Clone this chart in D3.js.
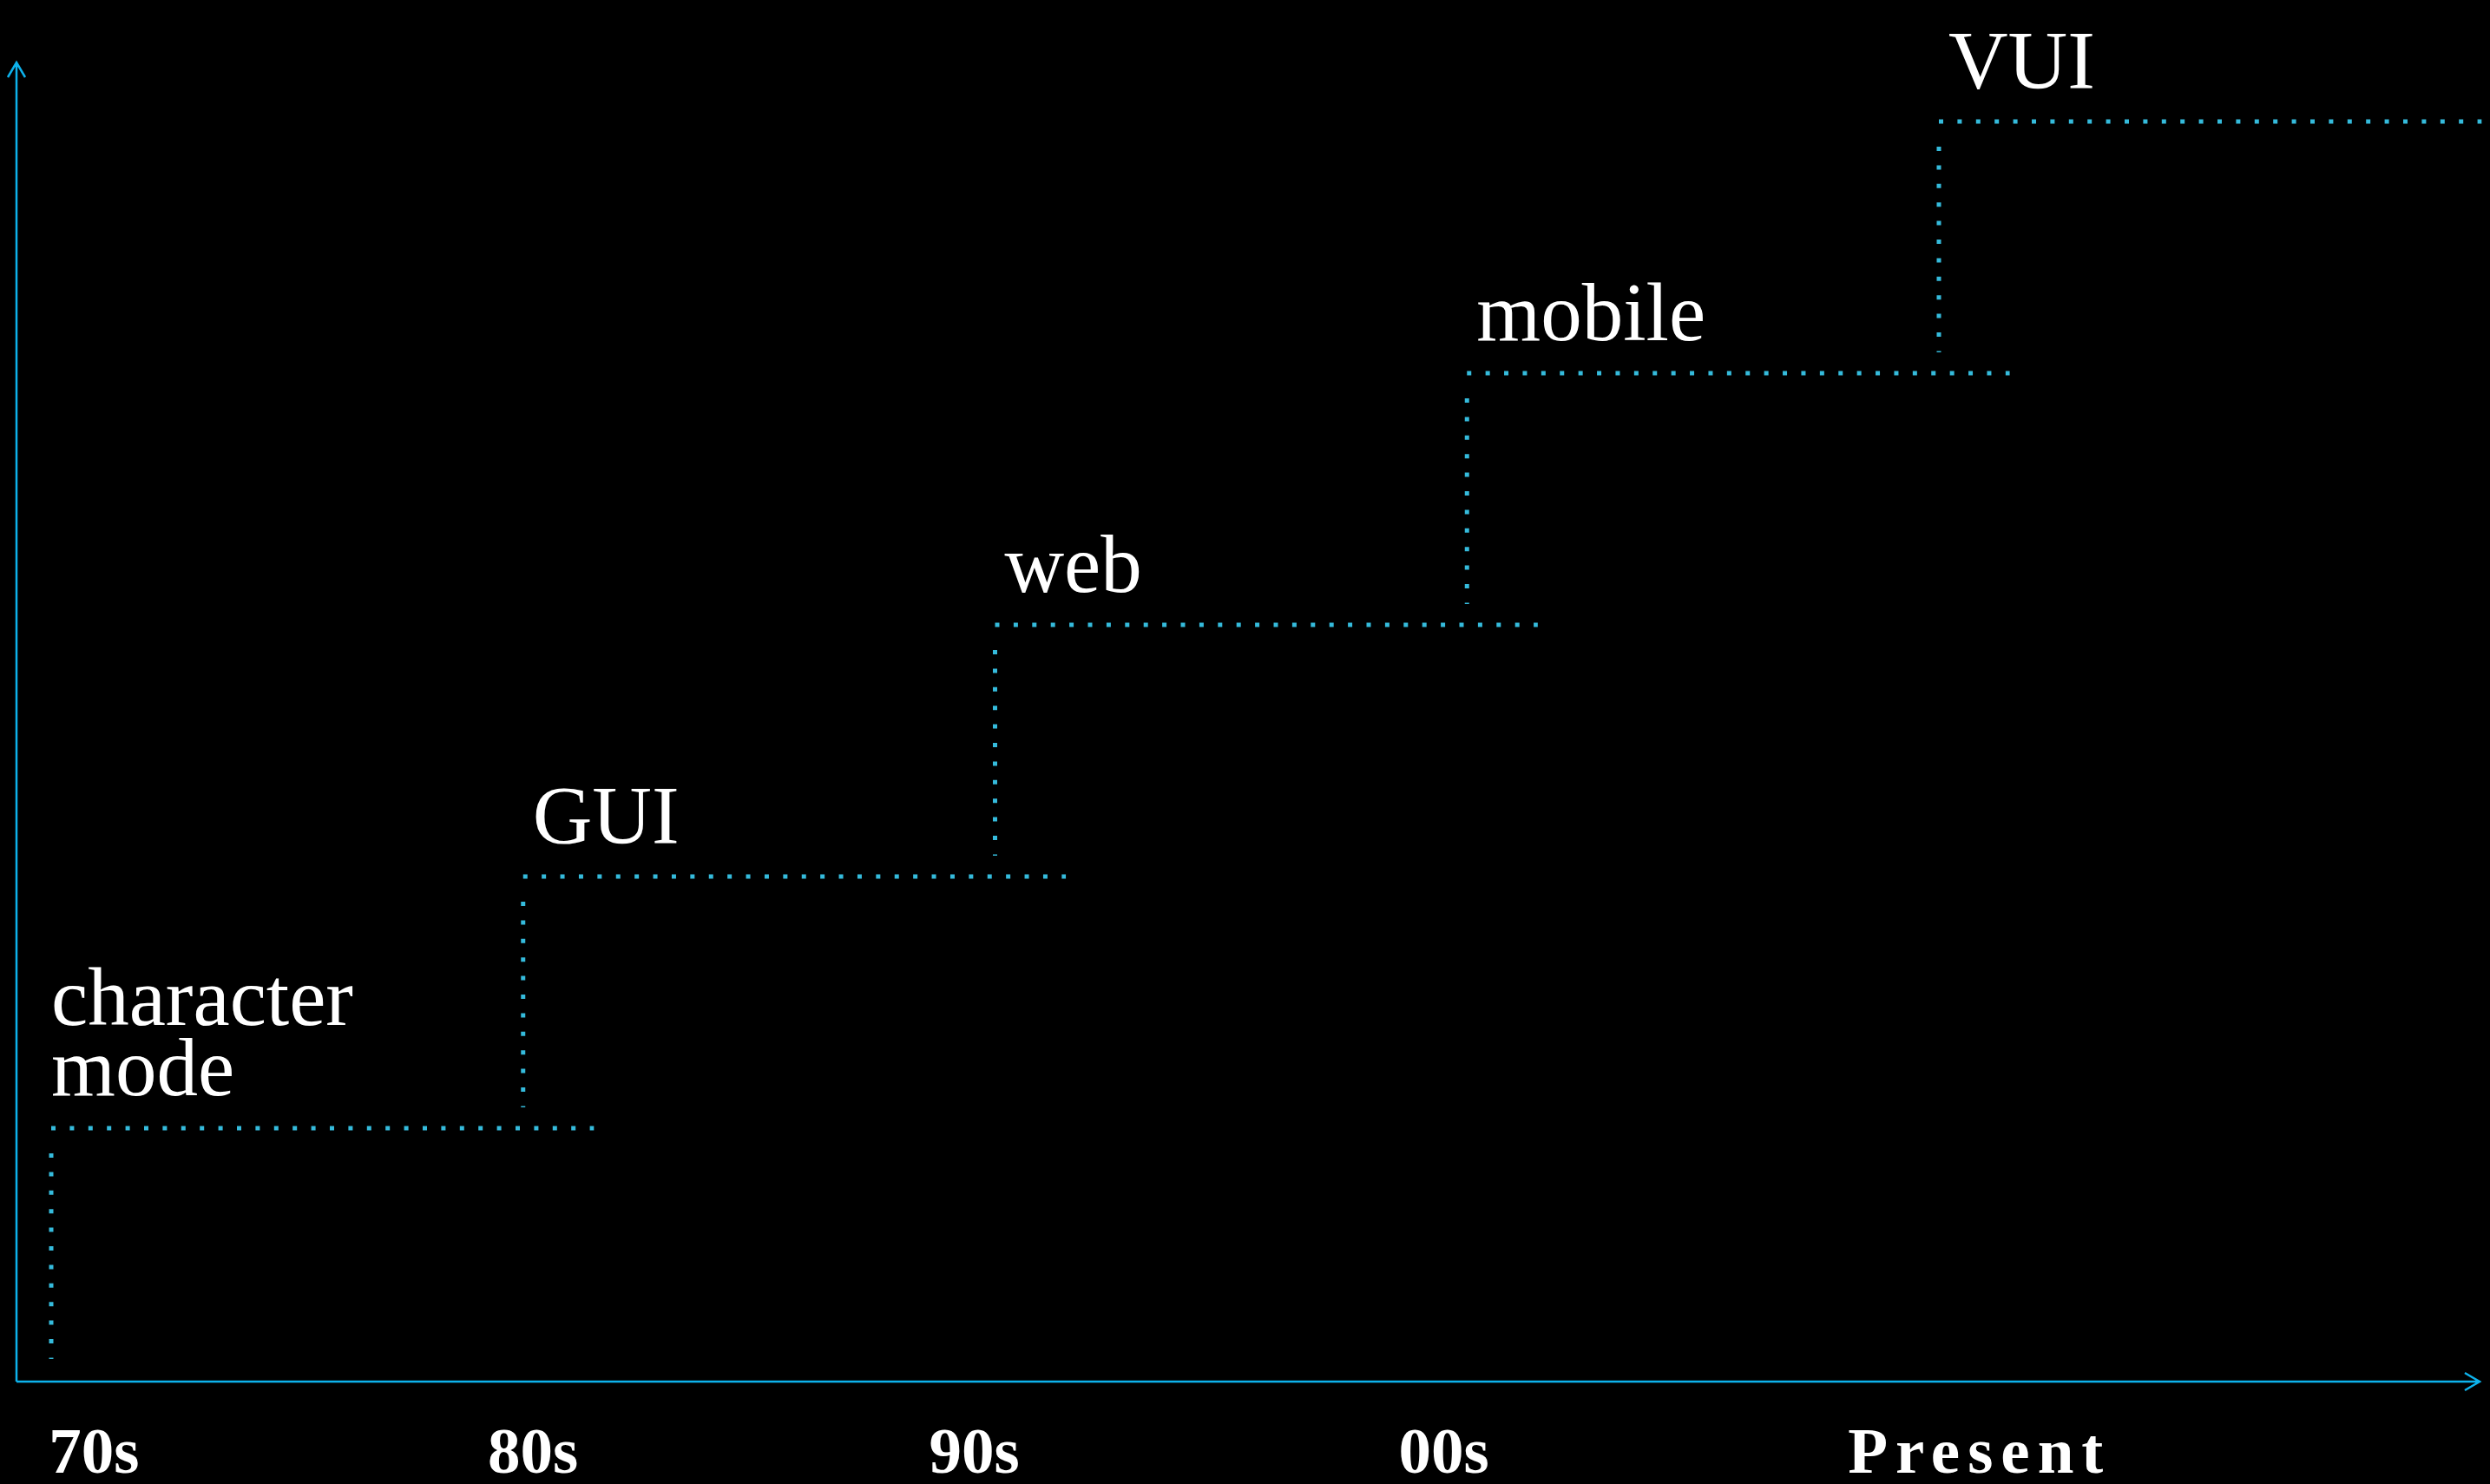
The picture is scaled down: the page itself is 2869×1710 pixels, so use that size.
<!DOCTYPE html>
<html>
<head>
<meta charset="utf-8">
<script src="https://cdn.jsdelivr.net/npm/d3@7"></script>
<style>
  body { margin: 0; background: #000; }
  svg { display: block; }
</style>
</head>
<body>
<svg id="chart" width="2869" height="1710"></svg>
<script>
// one step per era
var eras = ["character mode", "GUI", "web", "mobile", "VUI"];
var eraStart = [0, 1, 2, 3, 4];
var eraLevel = [1, 2, 3, 4, 5];
var stepLength = 1.15;

// time axis labels
var decades = ["70s", "80s", "90s", "00s", "Present"];
var decadeAt = [0.09, 1.02, 1.955, 2.95, 4.085];

var axisColor = "#0db2ec";
var dotColor = "#35bbdc";

var svg = d3.select("#chart");
svg.append("rect").attr("width", 2869).attr("height", 1710).attr("fill", "#000");

var x = d3.scaleLinear().domain([0, 4]).range([59, 2234]);
var y = d3.scaleLinear().domain([0, 5]).range([1590, 140]);

var axisX0 = 19, axisY0 = 1592;

// axes with open arrow heads
svg.append("path")
  .attr("d", "M" + axisX0 + "," + axisY0 + "V72 M" + (axisX0 - 10) + ",89 L" + axisX0 + ",72 L" + (axisX0 + 10) + ",89")
  .attr("fill", "none").attr("stroke", axisColor).attr("stroke-width", 2.5);
svg.append("path")
  .attr("d", "M" + axisX0 + "," + axisY0 + "H2857 M2840," + (axisY0 - 10) + " L2857," + axisY0 + " L2840," + (axisY0 + 10))
  .attr("fill", "none").attr("stroke", axisColor).attr("stroke-width", 2.5);

var steps = eras.map(function(name, i) {
  return { name: name, start: eraStart[i], level: eraLevel[i] };
});

// flat part of each step
svg.selectAll("line.flat")
  .data(steps)
  .enter()
  .append("line")
  .attr("class", "flat")
  .attr("x1", function(d) { return x(d.start); })
  .attr("x2", function(d) { return x(d.start + stepLength); })
  .attr("y1", function(d) { return y(d.level); })
  .attr("y2", function(d) { return y(d.level); })
  .attr("stroke", dotColor)
  .attr("stroke-width", 5)
  .attr("stroke-dasharray", "5 16.4");

// riser of each step
svg.selectAll("line.rise")
  .data(steps)
  .enter()
  .append("line")
  .attr("class", "rise")
  .attr("x1", function(d) { return x(d.start); })
  .attr("x2", function(d) { return x(d.start); })
  .attr("y1", function(d) { return y(d.level) + 29; })
  .attr("y2", function(d) { return y(d.level - 1) - 24; })
  .attr("stroke", dotColor)
  .attr("stroke-width", 5)
  .attr("stroke-dasharray", "5 16.4");

// era names
var labels = svg.selectAll("text.era")
  .data(steps)
  .enter()
  .append("text")
  .attr("class", "era")
  .attr("font-family", "'Liberation Serif', 'Times New Roman', serif")
  .attr("font-size", 95)
  .attr("fill", "#fff");

labels.each(function(d) {
  var words = d.name.split(" ");
  var t = d3.select(this);
  words.forEach(function(w, k) {
    t.append("tspan")
      .attr("x", x(d.start) + (d.start === 0 ? 0 : 11))
      .attr("y", y(d.level) - 38 - (words.length - 1 - k) * 81)
      .text(w);
  });
});

// decades along the bottom
var xAxis = d3.axisBottom(x)
  .tickValues(decadeAt)
  .tickFormat(function(d, i) { return decades[i]; })
  .tickSize(0)
  .tickPadding(0);

var gx = svg.append("g")
  .attr("transform", "translate(0,1697)")
  .call(xAxis);
gx.select(".domain").remove();
gx.selectAll("text")
  .attr("y", 0)
  .attr("dy", 0)
  .attr("fill", "#fff")
  .attr("font-family", "'Liberation Serif', 'Times New Roman', serif")
  .attr("font-size", 75)
  .attr("font-weight", "bold")
  .attr("letter-spacing", function(d, i) { return decades[i] === "Present" ? 9 : 0; });
</script>
</body>
</html>
